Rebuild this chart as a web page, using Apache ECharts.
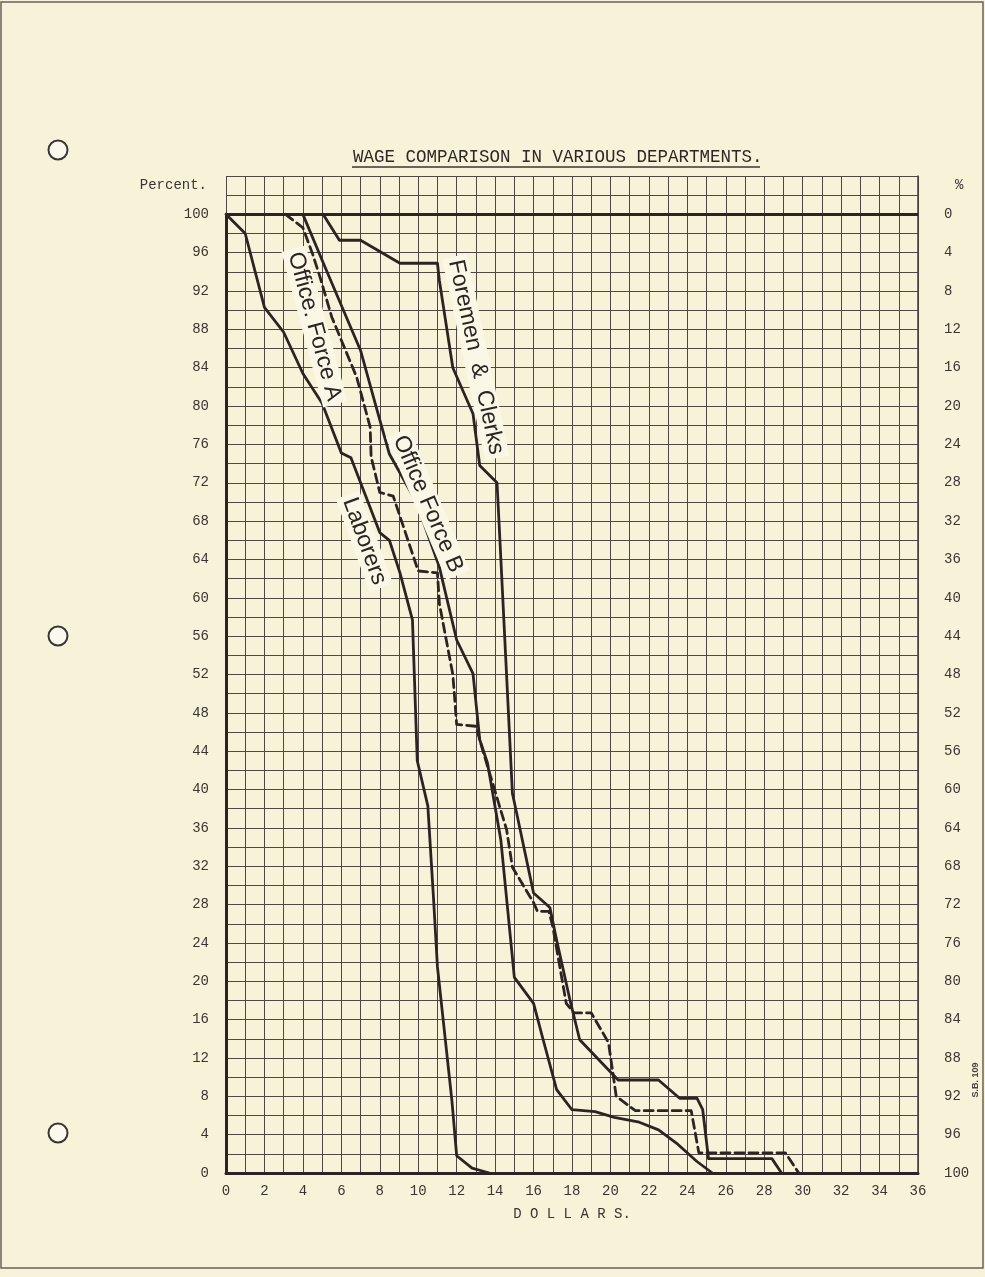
<!DOCTYPE html>
<html><head><meta charset="utf-8">
<script src="https://cdn.jsdelivr.net/npm/echarts@6/dist/echarts.min.js"></script>
<style>html,body{margin:0;padding:0;background:#f7f3d9;}#c{width:985px;height:1277px;}</style>
</head><body><div id="c"></div>
<script>
// ---- data (dollars, percent) ----
const laborers = [[0,100],[1,98],[2,90.3],[3,87.7],[4,83.4],[5,80.3],[6,75.1],[6.5,74.6],[8,66.8],[8.5,66],[9.05,62.6],[9.7,57.7],[9.95,43],[10.5,38.3],[10.8,28.5],[11,21.5],[11.75,7.6],[12,1.8],[12.8,0.5],[13.7,0]];
const officeForceA = [[3.1,100],[4,98.6],[4.5,95.9],[4.9,93.4],[5.5,89.3],[6.8,83],[7.5,77.8],[7.55,74.7],[8,71],[8.7,70.6],[10,62.8],[11,62.6],[11.1,59.4],[11.8,52],[12,46.8],[13,46.6],[13.4,43.8],[14.6,35.8],[14.9,31.9],[16,28.2],[16.2,27.3],[16.8,27.3],[17,25.7],[17.7,17.7],[18.1,16.7],[19,16.7],[19.9,13.6],[20.3,8],[21.3,6.5],[24.2,6.5],[24.6,2.1],[29.1,2.1],[29.8,0]];
const officeForceB = [[4,100],[5.15,94.5],[7,85.8],[7.8,80],[8.5,75],[9.9,70],[11.1,63.2],[12,55.6],[12.85,52.1],[13.2,45.2],[13.6,42.8],[14.3,34.7],[15,20.4],[16,17.7],[16.5,13.9],[17.2,8.7],[18,6.6],[19.2,6.4],[20.2,5.8],[21.5,5.3],[22.5,4.5],[23.5,3],[24.5,1.2],[25.3,0]];
const foremenClerks = [[5.05,100],[5.9,97.3],[7,97.3],[9.05,94.9],[11,94.9],[11.1,93.1],[11.8,84],[12.85,79.2],[13.2,73.8],[14.1,72],[14.3,64],[14.9,39.6],[15.05,38.2],[16,29.2],[16.85,27.7],[17.2,24.3],[17.9,18],[18.4,13.9],[20.4,9.7],[22.5,9.7],[23.6,7.8],[24.5,7.8],[24.8,6.6],[25.1,1.5],[28.4,1.5],[28.9,0]];
const seriesNames = ['Laborers','Office Force A','Office Force B','Foremen & Clerks'];
const xMin = 0, xMax = 36, yMin = 0, yMax = 104;
const titleText = 'WAGE COMPARISON IN VARIOUS DEPARTMENTS.';

// ---- style ----
const INK = '#2b2424';
const GRIDC = '#4f4646';
const PAPER = '#f7f3d9';
const MONO = '"Liberation Mono", "DejaVu Sans Mono", monospace';

const chart = echarts.init(document.getElementById('c'));

function lineSeries(name, data, dashed, extra) {
  return Object.assign({
    name, type: 'line', data, showSymbol: false, symbol: 'none', smooth: false,
    z: 5, silent: true,
    lineStyle: { color: INK, width: 2.8, type: dashed ? [9, 5] : 'solid', cap: 'round', join: 'round' }
  }, extra || {});
}

const option = {
  backgroundColor: PAPER,
  animation: false,
  grid: { left: 226, right: 67, top: 176, bottom: 104, containLabel: false },
  xAxis: {
    type: 'value', min: xMin, max: xMax, interval: 1,
    axisLine: { show: true, onZero: true, lineStyle: { color: INK, width: 3 } },
    axisTick: { show: false },
    splitLine: { show: true, lineStyle: { color: GRIDC, width: 1 } },
    axisLabel: { margin: 11, color: '#3b3434', fontFamily: MONO, fontSize: 14,
      formatter: v => (v % 2 === 0 ? String(v) : '') },
    name: 'D O L L A R S.', nameLocation: 'middle', nameGap: 34,
    nameTextStyle: { color: '#3b3434', fontFamily: MONO, fontSize: 14 }
  },
  yAxis: [{
    type: 'value', min: yMin, max: yMax, interval: 2, position: 'left',
    axisLine: { show: false }, axisTick: { show: false },
    splitLine: { show: true, lineStyle: { color: GRIDC, width: 1 } },
    axisLabel: { margin: 17, color: '#3b3434', fontFamily: MONO, fontSize: 14,
      formatter: v => ((v % 4 === 0 && v <= 100) ? String(v) : '') },
    name: 'Percent.', nameLocation: 'end', nameGap: -9,
    nameTextStyle: { color: '#3b3434', fontFamily: MONO, fontSize: 14, align: 'right', verticalAlign: 'middle', padding: [0, 19, 0, 0] }
  }, {
    type: 'value', min: yMin, max: yMax, interval: 2, position: 'right',
    axisLine: { show: true, lineStyle: { color: '#443b3b', width: 1.5 } }, axisTick: { show: false },
    splitLine: { show: false },
    axisLabel: { margin: 26, color: '#3b3434', fontFamily: MONO, fontSize: 14,
      formatter: v => ((v % 4 === 0 && v <= 100) ? String(100 - v) : '') },
    name: '%', nameLocation: 'end', nameGap: -9,
    nameTextStyle: { color: '#3b3434', fontFamily: MONO, fontSize: 14, align: 'left', verticalAlign: 'middle', padding: [0, 0, 0, 37] }
  }],
  series: [
    lineSeries(seriesNames[0], laborers, false, {
      markLine: { symbol: 'none', silent: true, label: { show: false },
        lineStyle: { color: INK, width: 3, type: 'solid' },
        data: [ { yAxis: 100 }, [ { coord: [0, 0] }, { coord: [0, 100] } ] ] }
    }),
    lineSeries(seriesNames[1], officeForceA, true),
    lineSeries(seriesNames[2], officeForceB, false),
    lineSeries(seriesNames[3], foremenClerks, false)
  ]
};
chart.setOption(option);

// ---- annotations (curve labels on paper cut-outs, title, page decorations) ----
const curveLabels = [
  { text: 'Office. Force A', at: [4.6, 88.3], angle: -75 },
  { text: 'Laborers', at: [7.2, 65.9], angle: -70 },
  { text: 'Office Force B', at: [10.5, 69.8], angle: -67 },
  { text: 'Foremen  &  Clerks', at: [13.0, 85.1], angle: -78 }
];
const gfx = [];
curveLabels.forEach(l => {
  const p = chart.convertToPixel({ gridIndex: 0 }, l.at);
  gfx.push({
    type: 'text', x: p[0], y: p[1], rotation: l.angle * Math.PI / 180, z: 50,
    style: { text: l.text, x: 0, y: 0, fill: INK, font: '23px "Liberation Sans", Arial, sans-serif',
      align: 'center', verticalAlign: 'middle', textAlign: 'center', textVerticalAlign: 'middle',
      backgroundColor: '#faf7e6', padding: [1, 4, 1, 4] }
  });
});
// title with underline
gfx.push({ type: 'text', x: 353, y: 157, z: 50,
  style: { text: titleText, fill: '#2e2727', font: '17.5px ' + MONO, textVerticalAlign: 'middle', verticalAlign: 'middle' } });
gfx.push({ type: 'line', z: 50, shape: { x1: 352, y1: 167, x2: 760, y2: 167 }, style: { stroke: '#3b3434', lineWidth: 1.5 } });
// binder holes
[150, 636, 1133].forEach(y => gfx.push({ type: 'circle', z: 50, shape: { cx: 58, cy: y, r: 9.5 },
  style: { fill: '#fbf9ee', stroke: '#3b3434', lineWidth: 2 } }));
// page edge
gfx.push({ type: 'rect', z: 50, shape: { x: 1, y: 2, width: 982, height: 1266 }, style: { fill: 'none', stroke: '#6a6262', lineWidth: 1.5 } });
// stamp
gfx.push({ type: 'text', x: 976, y: 1080, rotation: Math.PI / 2, z: 50,
  style: { text: 'S.B. 109', fill: '#4a4242', font: 'bold 9px "Liberation Sans", sans-serif', align: 'center', verticalAlign: 'middle', textAlign: 'center', textVerticalAlign: 'middle' } });
chart.setOption({ graphic: gfx });
</script></body></html>
